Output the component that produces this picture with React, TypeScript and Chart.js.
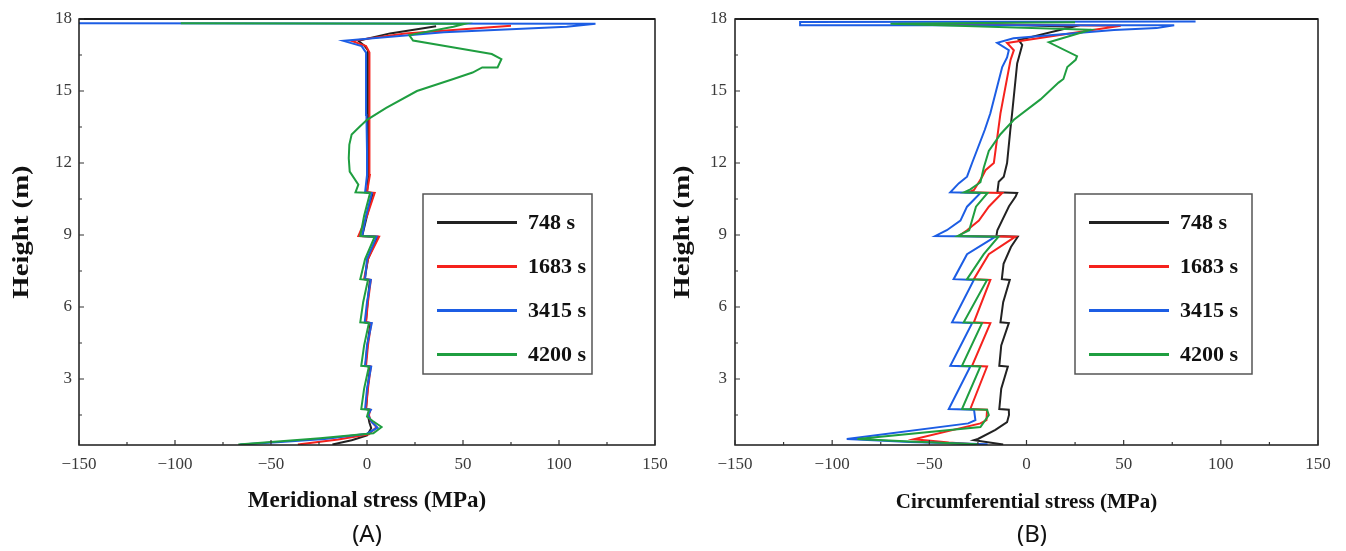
import React, { useEffect, useRef } from 'react';
import { Chart, registerables } from 'chart.js';

Chart.register(...registerables);

const SERIES_LABELS = ['748 s', '1683 s', '3415 s', '4200 s'];
const SERIES_COLORS = ['#222222', '#f5221d', '#1c5de4', '#1f9e40'];

const X_MIN = -150;
const X_MAX = 150;
const Y_MIN = 0.25;
const Y_MAX = 18;
const X_TICKS = [-150, -100, -50, 0, 50, 100, 150];
const Y_TICKS = [3, 6, 9, 12, 15, 18];
const X_MINOR = [-125, -75, -25, 25, 75, 125];
const Y_MINOR = [1.5, 4.5, 7.5, 10.5, 13.5, 16.5];
const Y_TITLE = 'Height (m)';

// ---------- Panel A: meridional stress ----------
const A748_H = [0.27, 0.45, 0.65, 0.95, 1.2, 1.5, 1.72, 1.75, 2.6, 3.52, 3.55, 4.4, 5.33, 5.36, 6.2, 7.13, 7.16, 8.0, 8.93, 8.96, 9.8, 10.75, 10.78, 11.5, 12.5, 14.0, 16.0, 16.7, 16.9, 17.09, 17.4, 17.7];
const A748_S = [-18, -8, 0, 2.2, 1.2, 0.5, 1.5, -0.5, 0.3, 1.6, -0.8, 0.2, 1.8, -0.6, 0.3, 1.5, -1.2, 0.5, 5.5, -2.5, 0, 3, 0, 0.8, 0.6, 0.5, 0.5, 0.4, -1.5, -4.5, 12, 36];

const A1683_H = [0.27, 0.48, 0.7, 1.0, 1.25, 1.5, 1.72, 1.75, 2.6, 3.52, 3.55, 4.4, 5.33, 5.36, 6.2, 7.13, 7.16, 8.0, 8.93, 8.96, 9.8, 10.75, 10.78, 11.5, 12.5, 14.0, 16.0, 16.6, 16.87, 17.09, 17.4, 17.72];
const A1683_S = [-36, -15, 1, 5, 2, 1, 1.8, -0.5, 0.5, 2, -0.5, 0.5, 2.2, -0.5, 0.5, 2, -1.5, 0.5, 6.3, -4.5, 0, 4, 0, 1.5, 1.2, 1.2, 1.5, 1.2, -0.5, -8, 20, 75];

const A3415_H = [0.27, 0.38, 0.5, 0.72, 0.97, 1.2, 1.5, 1.72, 1.75, 2.6, 3.52, 3.55, 4.4, 5.33, 5.36, 6.2, 7.13, 7.16, 8.0, 8.93, 8.96, 9.8, 10.75, 10.78, 11.5, 12.5, 14.0, 16.3, 16.6, 16.87, 17.09, 17.45, 17.68, 17.8, 17.82];
const A3415_S = [-66, -45, -22, 0, 5.5, 2.5, 0.5, 2, -1, 0, 2.2, -1, 0, 2.5, -1.2, 0, 2, -1, 0, 5, -2.5, -0.5, 2.5, -1, 0, 0, -0.3, -0.5, -0.5, -2.8, -12.3, 40, 104, 119, -160];

const A4200_H = [0.27, 0.53, 0.74, 1.0, 1.25, 1.43, 1.72, 1.75, 2.6, 3.52, 3.55, 4.4, 5.33, 5.36, 6.2, 7.13, 7.16, 8.0, 8.93, 8.96, 9.8, 10.75, 10.78, 11.1, 11.64, 12.2, 12.77, 13.19, 13.5, 13.8, 14.3, 15.0, 15.5, 15.77, 15.98, 15.98, 16.33, 16.54, 16.8, 17.1, 17.33, 17.68, 17.8, 17.82];
const A4200_S = [-67, -24.5, 3.3, 7.6, 3, 0, 1, -3, -1.5, 1, -3, -1.5, 1, -3.5, -2, 0.5, -3.5, -1, 4, -3.5, -1.5, 1.6, -6, -4.5, -9, -9.5, -9.2, -8, -4, 0, 10, 26, 45, 55, 60, 68, 70, 65, 46, 24, 22, 45, 51, -97];

// ---------- Panel B: circumferential stress ----------
const B748_H = [0.27, 0.45, 0.5, 0.88, 1.2, 1.5, 1.72, 1.75, 2.6, 3.52, 3.55, 4.4, 5.33, 5.36, 6.2, 7.13, 7.16, 7.8, 8.5, 8.93, 8.96, 9.2, 10.2, 10.6, 10.75, 10.78, 11.22, 11.43, 12.0, 13.4, 14.07, 16.15, 16.92, 17.12, 17.68, 17.8];
const B748_S = [-12, -27, -25, -16, -10, -9, -9.1, -14, -13, -9.6, -14, -13, -9.1, -13.4, -12, -8.6, -12.7, -11.8, -8, -4.5, -15.5, -15, -9, -5.6, -4.8, -15, -14.3, -11.7, -10, -8.3, -7.4, -4.8, -2.2, -4, 24, -26];

const B1683_H = [0.27, 0.35, 0.42, 0.49, 1.15, 1.29, 1.72, 1.75, 3.52, 3.55, 5.33, 5.36, 7.13, 7.16, 8.2, 8.93, 8.96, 9.2, 9.6, 10.18, 10.75, 10.78, 10.875, 11.43, 11.7, 12.0, 14.07, 16.3, 16.7, 17.0, 17.72, 17.8];
const B1683_S = [-25, -40, -48, -58, -23.7, -20.6, -20.3, -28.9, -20.3, -28, -18.6, -27.1, -18.6, -27.1, -19.4, -5.7, -34.9, -30.6, -24.5, -19.4, -12.5, -29.7, -27, -22.8, -21.1, -16.8, -13.4, -8.2, -6.5, -10, 48.5, -66];

const B3415_H = [0.28, 0.38, 0.5, 1.15, 1.29, 1.72, 1.75, 3.52, 3.55, 5.33, 5.36, 7.13, 7.16, 8.2, 8.93, 8.96, 9.2, 9.6, 10.18, 10.75, 10.78, 11.15, 11.43, 12.0, 13.375, 14.07, 16.0, 16.4, 16.7, 17.01, 17.2, 17.54, 17.62, 17.74, 17.74, 17.88, 17.9];
const B3415_S = [-20, -60, -92.5, -30, -26.3, -27, -40, -28.9, -39.2, -28, -38.3, -27.1, -37.5, -30.6, -16, -46.9, -41, -34, -30.6, -23.7, -39.2, -34.9, -30.6, -28, -21.5, -18.6, -12.5, -10, -9.1, -15.1, -6.7, 45, 67, 76, -116.5, -116.5, 87];

const B4200_H = [0.28, 0.4, 0.5, 1.0, 1.5, 1.72, 1.75, 3.52, 3.55, 5.33, 5.36, 7.13, 7.16, 8.2, 8.93, 8.96, 9.2, 10.18, 10.75, 10.78, 10.9, 11.2, 11.8, 12.5, 13.2, 13.8, 14.65, 15.35, 15.5, 16.0, 16.3, 16.45, 17.03, 17.55, 17.8, 17.86];
const B4200_S = [-25, -60, -87, -23.7, -19.4, -20.3, -33.2, -23.7, -33.2, -22.9, -32.3, -20.3, -30.6, -22, -14.4, -35.4, -29.5, -26, -20, -32.1, -28.9, -23.7, -22, -19.4, -13.4, -6.5, 7.2, 16.5, 19, 21, 25.3, 26, 11.5, 33, -70, 25];

const SERIF = '"Liberation Serif", "Times New Roman", serif';

const pair = (h: number[], s: number[]) => h.map((y, i) => ({ x: s[i], y }));

type Panel = {
  left: number;
  width: number;
  yAxisWidth: number;
  padRight: number;
  yTitleX: number;
  tickPad: number;
  xTitle: string;
  xTitleSize: number;
  label: string;
  labelX: number;
  legendLeft: number;
  legendWidth: number;
  series: { h: number[]; s: number[] }[];
};

const PANELS: Panel[] = [
  {
    left: 0, width: 671, yAxisWidth: 79, padRight: 16, yTitleX: 22, tickPad: 7,
    xTitle: 'Meridional stress (MPa)', xTitleSize: 23, label: '(A)', labelX: 367,
    legendLeft: 423, legendWidth: 169,
    series: [
      { h: A748_H, s: A748_S },
      { h: A1683_H, s: A1683_S },
      { h: A3415_H, s: A3415_S },
      { h: A4200_H, s: A4200_S },
    ],
  },
  {
    left: 671, width: 675, yAxisWidth: 64, padRight: 28, yTitleX: 683, tickPad: 8,
    xTitle: 'Circumferential stress (MPa)', xTitleSize: 21, label: '(B)', labelX: 1032,
    legendLeft: 1075, legendWidth: 177,
    series: [
      { h: B748_H, s: B748_S },
      { h: B1683_H, s: B1683_S },
      { h: B3415_H, s: B3415_S },
      { h: B4200_H, s: B4200_S },
    ],
  },
];

const decorPlugin = {
  id: 'decor',
  afterDatasetsDraw(chart: any, _args: any, opts: any) {
    const { ctx, chartArea: ca, scales } = chart;
    const xs = scales.x;
    const ys = scales.y;
    ctx.save();
    // frame
    ctx.strokeStyle = '#1a1a1a';
    ctx.lineWidth = 1.5;
    ctx.strokeRect(ca.left, ca.top, ca.right - ca.left, ca.bottom - ca.top);
    ctx.lineWidth = 2;
    ctx.beginPath();
    ctx.moveTo(ca.left, ca.top);
    ctx.lineTo(ca.right, ca.top);
    ctx.stroke();
    // inward ticks
    ctx.lineWidth = 1.2;
    ctx.strokeStyle = '#333';
    ctx.beginPath();
    X_TICKS.forEach((v) => {
      const px = xs.getPixelForValue(v);
      ctx.moveTo(px, ca.bottom);
      ctx.lineTo(px, ca.bottom - 5);
    });
    X_MINOR.forEach((v) => {
      const px = xs.getPixelForValue(v);
      ctx.moveTo(px, ca.bottom);
      ctx.lineTo(px, ca.bottom - 3);
    });
    Y_TICKS.forEach((v) => {
      const py = ys.getPixelForValue(v);
      ctx.moveTo(ca.left, py);
      ctx.lineTo(ca.left + 5, py);
    });
    Y_MINOR.forEach((v) => {
      const py = ys.getPixelForValue(v);
      ctx.moveTo(ca.left, py);
      ctx.lineTo(ca.left + 3, py);
    });
    ctx.stroke();

    // legend
    const lx = opts.legendLeft;
    const ly = 194;
    const lw = opts.legendWidth;
    const lh = 180;
    ctx.fillStyle = '#ffffff';
    ctx.fillRect(lx, ly, lw, lh);
    ctx.strokeStyle = '#555';
    ctx.lineWidth = 1.5;
    ctx.strokeRect(lx, ly, lw, lh);
    ctx.font = `bold 22px ${SERIF}`;
    ctx.textAlign = 'left';
    ctx.textBaseline = 'middle';
    SERIES_LABELS.forEach((lab, i) => {
      const yy = ly + 28.5 + i * 44;
      ctx.strokeStyle = SERIES_COLORS[i];
      ctx.lineWidth = 3;
      ctx.beginPath();
      ctx.moveTo(lx + 14, yy);
      ctx.lineTo(lx + 94, yy);
      ctx.stroke();
      ctx.fillStyle = '#111';
      ctx.fillText(lab, lx + 105, yy + 1);
    });

    // y-axis title (drawn slightly stretched along its length like the source figure)
    ctx.save();
    ctx.translate(opts.yTitleX, (ca.top + ca.bottom) / 2);
    ctx.rotate(-Math.PI / 2);
    ctx.scale(1.25, 1);
    ctx.font = `bold 23px ${SERIF}`;
    ctx.textAlign = 'center';
    ctx.textBaseline = 'middle';
    ctx.fillStyle = '#111';
    ctx.fillText(Y_TITLE, 0, 0);
    ctx.restore();

    // panel label
    ctx.font = '24px "Noto Sans", "DejaVu Sans", sans-serif';
    ctx.textAlign = 'center';
    ctx.textBaseline = 'middle';
    ctx.fillStyle = '#111';
    ctx.fillText(opts.label, opts.labelX, 535);
    ctx.restore();
  },
};

const fmt = (v: number | string) => {
  const n = Number(v);
  return n < 0 ? '\u2212' + Math.abs(n) : String(n);
};

function PanelChart({ panel }: { panel: Panel }) {
  const ref = useRef<HTMLCanvasElement | null>(null);
  useEffect(() => {
    if (!ref.current) return;
    const datasets = panel.series.map((sr, i) => ({
      label: SERIES_LABELS[i],
      data: pair(sr.h, sr.s),
      showLine: true,
      borderColor: SERIES_COLORS[i],
      backgroundColor: SERIES_COLORS[i],
      borderWidth: 2,
      pointRadius: 0,
      tension: 0,
      fill: false,
      order: 4 - i,
    }));
    const chart = new Chart(ref.current, {
      type: 'scatter',
      data: { datasets },
      plugins: [decorPlugin],
      options: {
        animation: false,
        responsive: false,
        devicePixelRatio: 1,
        layout: { padding: { top: 19, right: panel.padRight, bottom: 31, left: 0 } },
        plugins: {
          legend: { display: false },
          tooltip: { enabled: false },
          decor: {
            legendLeft: panel.legendLeft - panel.left,
            legendWidth: panel.legendWidth,
            label: panel.label,
            labelX: panel.labelX - panel.left,
            yTitleX: panel.yTitleX - panel.left,
          },
        } as any,
        scales: {
          x: {
            type: 'linear',
            min: X_MIN,
            max: X_MAX,
            afterBuildTicks: (sc: any) => { sc.ticks = X_TICKS.map((v) => ({ value: v })); },
            afterFit: (sc: any) => { sc.height = 75; sc.paddingLeft = 0; sc.paddingRight = 0; },
            grid: { display: false, drawTicks: false },
            border: { display: false },
            ticks: {
              padding: 9,
              maxRotation: 0,
              autoSkip: false,
              color: '#3a3a3a',
              font: { family: SERIF, size: 17 },
              callback: fmt,
            },
            title: {
              display: true,
              text: panel.xTitle,
              color: '#111',
              font: { family: SERIF, size: panel.xTitleSize, weight: 'bold' },
              padding: { top: 0, bottom: 5 },
            },
          },
          y: {
            type: 'linear',
            min: Y_MIN,
            max: Y_MAX,
            afterBuildTicks: (sc: any) => { sc.ticks = Y_TICKS.map((v) => ({ value: v })); },
            afterFit: (sc: any) => { sc.width = panel.yAxisWidth; sc.paddingTop = 0; sc.paddingBottom = 0; },
            grid: { display: false, drawTicks: false },
            border: { display: false },
            ticks: {
              padding: panel.tickPad,
              autoSkip: false,
              color: '#3a3a3a',
              font: { family: SERIF, size: 17 },
              callback: fmt,
            },
            title: { display: false },
          },
        },
      } as any,
    });
    return () => chart.destroy();
  }, [panel]);
  return (
    <canvas
      ref={ref}
      width={panel.width}
      height={551}
      style={{ position: 'absolute', left: panel.left, top: 0, width: panel.width, height: 551 }}
    />
  );
}

export default function App() {
  return (
    <div style={{ position: 'fixed', left: 0, top: 0, width: 1346, height: 551, background: '#ffffff', overflow: 'hidden' }}>
      {PANELS.map((p) => (
        <PanelChart key={p.label} panel={p} />
      ))}
    </div>
  );
}
